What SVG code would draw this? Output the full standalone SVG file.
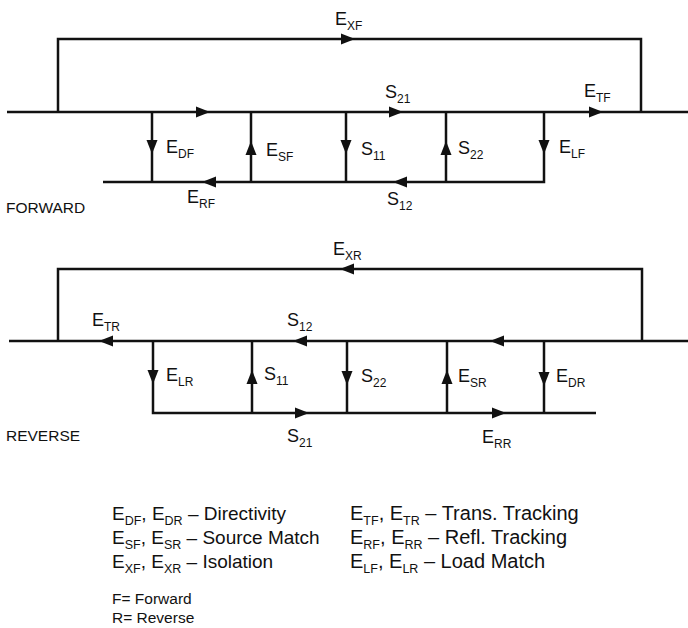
<svg xmlns="http://www.w3.org/2000/svg" xmlns:xlink="http://www.w3.org/1999/xlink" width="688" height="628" viewBox="0 0 688 628">
<style>
.ln{fill:none;stroke:#111;stroke-width:2.5;stroke-linecap:butt;stroke-linejoin:miter}
.ah{fill:#111}
text{font-family:"Liberation Sans",Arial,sans-serif;fill:#111}
.lb{font-size:18px}
.s{font-size:12px}
.hd{font-size:15.5px}
.lg{font-size:19px}
.lgr{font-size:20px}
.lgs{font-size:12.5px}
.nt{font-size:15.5px}
</style>
<defs>
<path id="ar" class="ah" d="M0,0 L-14,-5.5 L-14,5.5 Z"/>
</defs>
<rect width="688" height="628" fill="#fff"/>
<g id="connectors">
<!-- forward -->
<path class="ln" d="M7,112 H688"/>
<path class="ln" d="M58,112 V39 H641 V112"/>
<path class="ln" d="M103,182 H544 V112"/>
<path class="ln" d="M152,112 V182 M251,112 V182 M346,112 V182 M446,112 V182"/>
<use xlink:href="#ar" transform="translate(210,112)"/>
<use xlink:href="#ar" transform="translate(403,112)"/>
<use xlink:href="#ar" transform="translate(603,112)"/>
<use xlink:href="#ar" transform="translate(355,39)"/>
<use xlink:href="#ar" transform="translate(202,182) rotate(180)"/>
<use xlink:href="#ar" transform="translate(393,182) rotate(180)"/>
<use xlink:href="#ar" transform="translate(152,154) rotate(90)"/>
<use xlink:href="#ar" transform="translate(251,141) rotate(-90)"/>
<use xlink:href="#ar" transform="translate(346,154) rotate(90)"/>
<use xlink:href="#ar" transform="translate(446,141) rotate(-90)"/>
<use xlink:href="#ar" transform="translate(544,154) rotate(90)"/>
<!-- reverse -->
<path class="ln" d="M9,341 H688"/>
<path class="ln" d="M58,341 V269 H642 V341"/>
<path class="ln" d="M153,341 V413 H596"/>
<path class="ln" d="M252,341 V413 M347,341 V413 M447,341 V413 M544,341 V413"/>
<use xlink:href="#ar" transform="translate(99,341) rotate(180)"/>
<use xlink:href="#ar" transform="translate(293,341) rotate(180)"/>
<use xlink:href="#ar" transform="translate(490,341) rotate(180)"/>
<use xlink:href="#ar" transform="translate(340,269) rotate(180)"/>
<use xlink:href="#ar" transform="translate(309,413)"/>
<use xlink:href="#ar" transform="translate(506,413)"/>
<use xlink:href="#ar" transform="translate(153,384) rotate(90)"/>
<use xlink:href="#ar" transform="translate(252,370) rotate(-90)"/>
<use xlink:href="#ar" transform="translate(347,385) rotate(90)"/>
<use xlink:href="#ar" transform="translate(447,370) rotate(-90)"/>
<use xlink:href="#ar" transform="translate(544,386) rotate(90)"/>
</g>
<g id="forward-labels">
<text class="lb" x="335" y="25">E<tspan class="s" dy="4.5">XF</tspan></text>
<text class="lb" x="385" y="98">S<tspan class="s" dy="4.5">21</tspan></text>
<text class="lb" x="584" y="97">E<tspan class="s" dy="4.5">TF</tspan></text>
<text class="lb" x="166" y="153">E<tspan class="s" dy="4.5">DF</tspan></text>
<text class="lb" x="266" y="156">E<tspan class="s" dy="4.5">SF</tspan></text>
<text class="lb" x="361" y="155">S<tspan class="s" dy="4.5">11</tspan></text>
<text class="lb" x="458" y="154">S<tspan class="s" dy="4.5">22</tspan></text>
<text class="lb" x="559" y="153">E<tspan class="s" dy="4.5">LF</tspan></text>
<text class="lb" x="187" y="203">E<tspan class="s" dy="4.5">RF</tspan></text>
<text class="lb" x="387" y="205">S<tspan class="s" dy="4.5">12</tspan></text>
<text class="hd" x="6" y="213">FORWARD</text>
</g>
<g id="reverse-labels">
<text class="lb" x="333" y="255">E<tspan class="s" dy="4.5">XR</tspan></text>
<text class="lb" x="92" y="326">E<tspan class="s" dy="4.5">TR</tspan></text>
<text class="lb" x="287" y="326">S<tspan class="s" dy="4.5">12</tspan></text>
<text class="lb" x="166" y="381">E<tspan class="s" dy="4.5">LR</tspan></text>
<text class="lb" x="264" y="380">S<tspan class="s" dy="4.5">11</tspan></text>
<text class="lb" x="361" y="382">S<tspan class="s" dy="4.5">22</tspan></text>
<text class="lb" x="458" y="382">E<tspan class="s" dy="4.5">SR</tspan></text>
<text class="lb" x="556" y="382">E<tspan class="s" dy="4.5">DR</tspan></text>
<text class="lb" x="287" y="442">S<tspan class="s" dy="4.5">21</tspan></text>
<text class="lb" x="482" y="443">E<tspan class="s" dy="4.5">RR</tspan></text>
<text class="hd" x="6" y="441">REVERSE</text>
</g>
<g id="legend">
<text class="lg" x="112" y="520">E<tspan class="lgs" dy="4.5">DF</tspan><tspan dy="-4.5">, E</tspan><tspan class="lgs" dy="4.5">DR</tspan><tspan dy="-4.5"> – Directivity</tspan></text>
<text class="lg" x="112" y="544">E<tspan class="lgs" dy="4.5">SF</tspan><tspan dy="-4.5">, E</tspan><tspan class="lgs" dy="4.5">SR</tspan><tspan dy="-4.5"> – Source Match</tspan></text>
<text class="lg" x="112" y="568">E<tspan class="lgs" dy="4.5">XF</tspan><tspan dy="-4.5">, E</tspan><tspan class="lgs" dy="4.5">XR</tspan><tspan dy="-4.5"> – Isolation</tspan></text>
<text class="lgr" x="350" y="520">E<tspan class="lgs" dy="4.5">TF</tspan><tspan dy="-4.5">, E</tspan><tspan class="lgs" dy="4.5">TR</tspan><tspan dy="-4.5"> – Trans. Tracking</tspan></text>
<text class="lgr" x="350" y="544">E<tspan class="lgs" dy="4.5">RF</tspan><tspan dy="-4.5">, E</tspan><tspan class="lgs" dy="4.5">RR</tspan><tspan dy="-4.5"> – Refl. Tracking</tspan></text>
<text class="lgr" x="350" y="568">E<tspan class="lgs" dy="4.5">LF</tspan><tspan dy="-4.5">, E</tspan><tspan class="lgs" dy="4.5">LR</tspan><tspan dy="-4.5"> – Load Match</tspan></text>
<text class="nt" x="112" y="604">F= Forward</text>
<text class="nt" x="112" y="623">R= Reverse</text>
</g>
</svg>
